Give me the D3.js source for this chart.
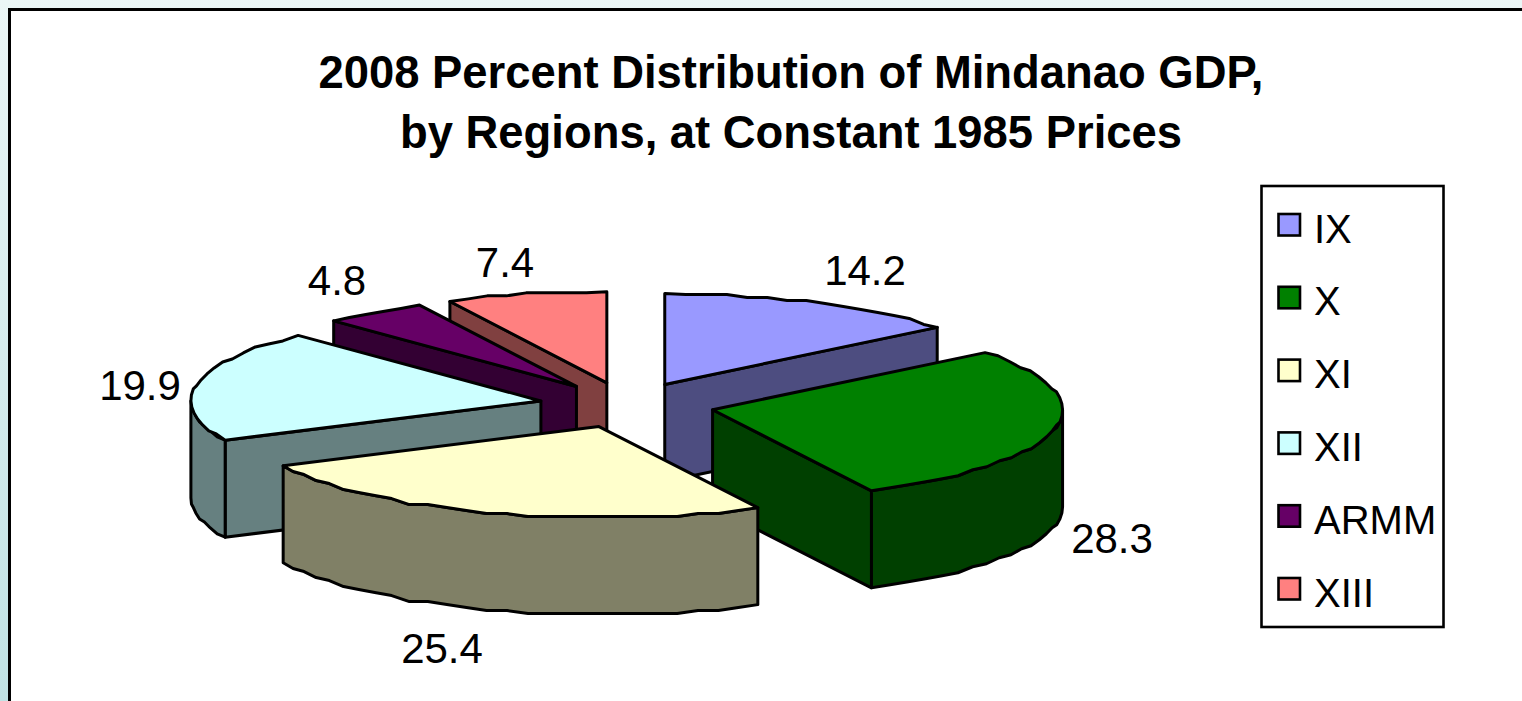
<!DOCTYPE html>
<html><head><meta charset="utf-8">
<style>html,body{margin:0;padding:0;background:#fff;overflow:hidden}svg{display:block}text{font-family:"Liberation Sans",Arial,sans-serif;fill:#000}</style>
<script src="https://cdn.jsdelivr.net/npm/d3@7/dist/d3.min.js"></script>
</head><body><svg id="c" width="1522" height="701"></svg>
<script>
const categories = ["IX","X","XI","XII","ARMM","XIII"];
const values = [14.2,28.3,25.4,19.9,4.8,7.4];
const topColors = ["#9999FF","#008000","#FFFFCC","#CCFFFF","#660066","#FF8080"];
const wallColors = ["#4D4D80","#004000","#808066","#668080","#330033","#804040"];
const titleLines = ["2008 Percent Distribution of Mindanao GDP,","by Regions, at Constant 1985 Prices"];

const W=1522,H=701;
const svg=d3.select("#c");
const defs=svg.append("defs");
const g=defs.append("linearGradient").attr("id","bg").attr("x1",0).attr("y1",0).attr("x2",0).attr("y2",1);
g.append("stop").attr("offset",0).attr("stop-color","#EBF6F6");
g.append("stop").attr("offset",1).attr("stop-color","#C0E2E4");
svg.append("rect").attr("width",W).attr("height",H).attr("fill","url(#bg)");
svg.append("rect").attr("x",9.5).attr("y",9.5).attr("width",W+20).attr("height",H+20).attr("fill","#fff").attr("stroke","#000").attr("stroke-width",3);

svg.selectAll("text.title").data(titleLines).join("text").attr("class","title")
 .attr("x",791).attr("y",(d,i)=>88+i*60).attr("text-anchor","middle")
 .attr("font-size",45.4).attr("font-weight","bold").text(d=>d);

// projection
const cx=627,cy=405,rx=350,ry=91,depth=97,explode=0.25;
const px=d3.scaleLinear().domain([-1,1]).range([cx-rx,cx+rx]);
const py=d3.scaleLinear().domain([-1,1]).range([cy-ry,cy+ry]);
const slices=d3.pie().sort(null)(values).map((s,i)=>({...s,i,name:categories[i]}));
const lineGen=d3.line();
const pt=(a,r=1)=>[px(r*Math.sin(a)),py(-r*Math.cos(a))];
function wob(p,q){return [p[0],Math.round(p[1]/q)*q];}
function arcPts(a0,a1){
  const n=Math.max(2,Math.ceil((a1-a0)*rx/22));
  return d3.range(n+1).map(k=>{const a=a0+(a1-a0)*k/n;const p=pt(a);return (k===0||k===n)?p:wob(p,3);});
}
slices.forEach(s=>{
  const m=(s.startAngle+s.endAngle)/2;
  s.dx=px(explode*Math.sin(m))-cx; s.dy=py(-explode*Math.cos(m))-cy;
  s.apexY=cy+s.dy;
});
const order=slices.slice().sort((a,b)=>a.apexY-b.apexY);
const gp=svg.append("g").attr("stroke","#000").attr("stroke-width",3).attr("stroke-linejoin","round");
const down=p=>[p[0],p[1]+depth];
order.forEach(s=>{
  const G=gp.append("g").attr("transform",`translate(${s.dx},${s.dy})`);
  const a0=s.startAngle,a1=s.endAngle,c=[cx,cy];
  const wall=pts=>G.append("path").attr("d",lineGen(pts)+"Z").attr("fill",wallColors[s.i]);
  if(Math.sin(a1)>0.01){const p=pt(a1);wall([c,p,down(p),down(c)]);}
  if(Math.sin(a0)<-0.01){const p=pt(a0);wall([c,p,down(p),down(c)]);}
  const f0=Math.max(a0,Math.PI/2),f1=Math.min(a1,3*Math.PI/2);
  if(f1>f0){const ar=arcPts(f0,f1);wall(ar.concat(ar.slice().reverse().map(down)));}
  G.append("path").attr("d",lineGen([c,...arcPts(a0,a1)])+"Z").attr("fill",topColors[s.i]);
});

const labelPos=[[865,285],[1112,553],[442,663],[140,400],[337,295],[505,277]];
svg.selectAll("text.lab").data(slices).join("text").attr("class","lab")
 .attr("x",(d,i)=>labelPos[i][0]).attr("y",(d,i)=>labelPos[i][1]).attr("text-anchor","middle")
 .attr("font-size",42).text(d=>d3.format(".1f")(d.data));

// legend
svg.append("rect").attr("x",1261.5).attr("y",186).attr("width",182).attr("height",441).attr("fill","#fff").attr("stroke","#000").attr("stroke-width",2.6);
const ly=d3.scalePoint().domain(categories).range([228,592]);
const L=svg.selectAll("g.l").data(categories).join("g").attr("class","l").attr("transform",d=>`translate(0,${ly(d)})`);
L.append("rect").attr("x",1278.5).attr("y",-14).attr("width",21.5).attr("height",21.5).attr("stroke","#000").attr("stroke-width",2.6).attr("fill",(d,i)=>topColors[i]);
L.append("text").attr("x",1314).attr("y",14.5).attr("font-size",40).text(d=>d);
</script></body></html>
